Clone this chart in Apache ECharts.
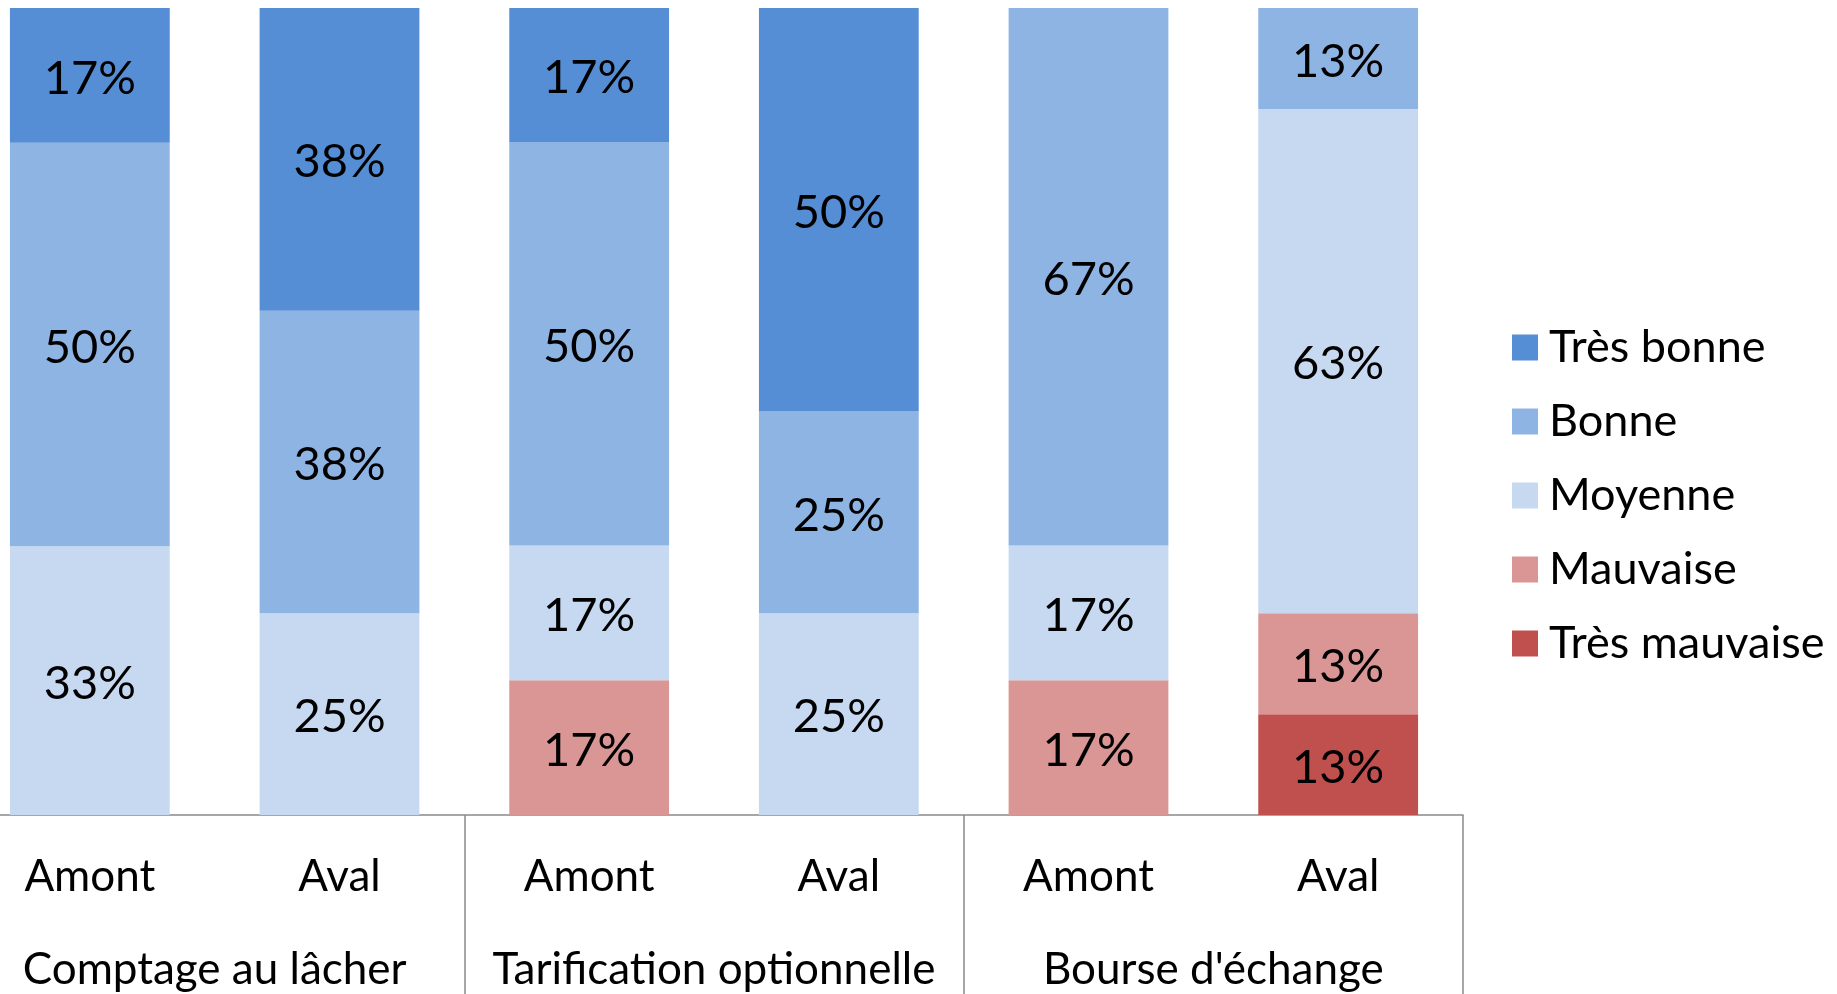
<!DOCTYPE html>
<html>
<head>
<meta charset="utf-8">
<script src="https://cdn.jsdelivr.net/npm/echarts@6/dist/echarts.min.js"></script>
<style>
  html, body { margin: 0; padding: 0; background: #fff; overflow: hidden; }
  /* the original picture is cropped on the left: shift the canvas */
  #main { position: absolute; left: -35px; top: 0; width: 1872px; height: 994px; }
</style>
</head>
<body>
<div id="main"></div>
<script>
// sub-categories (inner axis level) and groups (outer level)
var categories = ['Amont', 'Aval', 'Amont', 'Aval', 'Amont', 'Aval'];
var groups = ['Comptage au lâcher', 'Tarification optionnelle', "Bourse d'échange"];

// percentages per category
var tresBonne    = [16.7, 37.5, 16.7, 50, 0, 0];
var bonne        = [50, 37.5, 50, 25, 66.7, 12.5];
var moyenne      = [33.3, 25, 16.7, 25, 16.7, 62.5];
var mauvaise     = [0, 0, 16.7, 0, 16.7, 12.5];
var tresMauvaise = [0, 0, 0, 0, 0, 12.5];

var legendOrder = ['Très bonne', 'Bonne', 'Moyenne', 'Mauvaise', 'Très mauvaise'];

var FONT = 'Lato';
var myChart = echarts.init(document.getElementById('main'));

function mkSeries(name, data, color) {
  return {
    name: name,
    type: 'bar',
    stack: 'total',
    barWidth: '64%',
    data: data.map(function (v) { return v === 0 ? null : v; }),
    itemStyle: { color: color },
    label: {
      show: true,
      position: 'inside',
      offset: [0, 3],
      color: '#000',
      fontFamily: FONT,
      fontSize: 47,
      formatter: function (p) { return p.value ? Math.round(p.value) + '%' : ''; }
    }
  };
}

myChart.setOption({
  animation: false,
  grid: { left: 0, right: 374, top: 8, bottom: 179 },
  legend: {
    orient: 'vertical',
    left: 1542,
    top: 320,
    data: legendOrder,
    icon: 'rect',
    itemWidth: 26,
    itemHeight: 26,
    itemGap: 29,
    textStyle: { fontFamily: FONT, fontSize: 45, lineHeight: 43, color: '#000', padding: [0, 0, 0, 6] }
  },
  xAxis: [
    {
      type: 'category',
      data: categories,
      position: 'bottom',
      axisLine: { show: true, lineStyle: { color: '#898989', width: 1.5 } },
      axisTick: { show: false },
      axisLabel: { interval: 0, margin: 40, color: '#000', fontFamily: FONT, fontSize: 44 }
    },
    {
      type: 'category',
      data: groups,
      position: 'bottom',
      axisLine: { show: false },
      axisTick: { show: true, length: 190, lineStyle: { color: '#898989', width: 1.5 } },
      axisLabel: { interval: 0, margin: 133, color: '#000', fontFamily: FONT, fontSize: 44 }
    }
  ],
  yAxis: {
    type: 'value',
    min: 0,
    max: 100,
    show: false,
    splitLine: { show: false }
  },
  series: [
    mkSeries('Très mauvaise', tresMauvaise, '#C0504D'),
    mkSeries('Mauvaise', mauvaise, '#D99694'),
    mkSeries('Moyenne', moyenne, '#C6D9F1'),
    mkSeries('Bonne', bonne, '#8EB4E3'),
    mkSeries('Très bonne', tresBonne, '#558ED5')
  ]
});
</script>
</body>
</html>
